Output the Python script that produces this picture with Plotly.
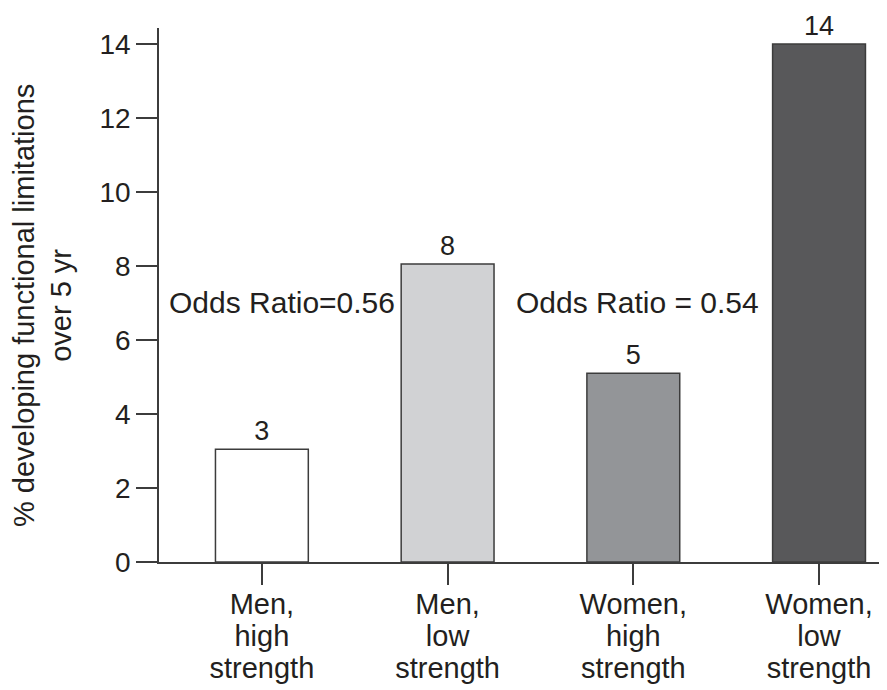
import plotly.graph_objects as go

# Data
categories = ["Men, high strength", "Men, low strength", "Women, high strength", "Women, low strength"]
tick_lines = [["Men,", "high", "strength"], ["Men,", "low", "strength"],
              ["Women,", "high", "strength"], ["Women,", "low", "strength"]]
values = [3.05, 8.05, 5.1, 14.0]
value_labels = ["3", "8", "5", "14"]
bar_colors = ["#ffffff", "#d1d2d4", "#939598", "#58585a"]
odds_texts = ["Odds Ratio=0.56", "Odds Ratio = 0.54"]
odds_x = [0.11, 2.02]
odds_y = [7.0, 7.0]
y_ticks = [0, 2, 4, 6, 8, 10, 12, 14]
y_title_lines = ["% developing functional limitations", "over 5 yr"]

FONT = "Liberation Sans, Arial, Helvetica, sans-serif"
TXT = "#231f20"
LINE = "#3c3c3c"

ticktext = ["<br>".join(f'<span style="font-size:29px">{w}</span>' for w in lines)
            for lines in tick_lines]
y_title = "<br>".join(y_title_lines)

fig = go.Figure()
fig.add_trace(go.Bar(
    x=categories, y=values, width=0.5,
    marker=dict(color=bar_colors, line=dict(color=LINE, width=1.5)),
    text=value_labels, textposition="outside",
    textfont=dict(family=FONT, size=27, color=TXT),
    cliponaxis=False, showlegend=False, hoverinfo="skip",
))

for t, x, y in zip(odds_texts, odds_x, odds_y):
    fig.add_annotation(x=x, y=y, xref="x", yref="y", text=t, showarrow=False,
                       font=dict(family=FONT, size=30, color=TXT),
                       xanchor="center", yanchor="middle")

fig.add_annotation(x=-0.1595, y=0.481, xref="paper", yref="paper", text=y_title,
                   showarrow=False, textangle=-90,
                   font=dict(family=FONT, size=29, color=TXT),
                   xanchor="center", yanchor="middle")

# page body adds an 8px offset, so the figure is 8px smaller than the window
fig.update_layout(
    width=879, height=682,
    margin=dict(l=151, r=0, t=20, b=128),
    paper_bgcolor="white", plot_bgcolor="white",
    font=dict(family=FONT, color=TXT),
    bargap=0.5,
)
fig.update_xaxes(
    range=[-0.554, 3.366], automargin=False,
    tickmode="array", tickvals=categories, ticktext=ticktext,
    tickfont=dict(family=FONT, size=24.5, color=TXT),
    ticks="outside", ticklen=21, tickwidth=1.5, tickcolor=LINE,
    showline=True, linecolor=LINE, linewidth=1.5,
    showgrid=False, zeroline=False,
)
fig.update_yaxes(
    range=[0, 14.43], automargin=False,
    tickmode="array", tickvals=y_ticks, ticktext=[str(v) for v in y_ticks],
    tickfont=dict(family=FONT, size=28, color=TXT),
    ticks="outside", ticklen=21, tickwidth=1.5, tickcolor=LINE,
    showline=True, linecolor=LINE, linewidth=1.5,
    showgrid=False, zeroline=False,
)

fig.write_html("out.html")
